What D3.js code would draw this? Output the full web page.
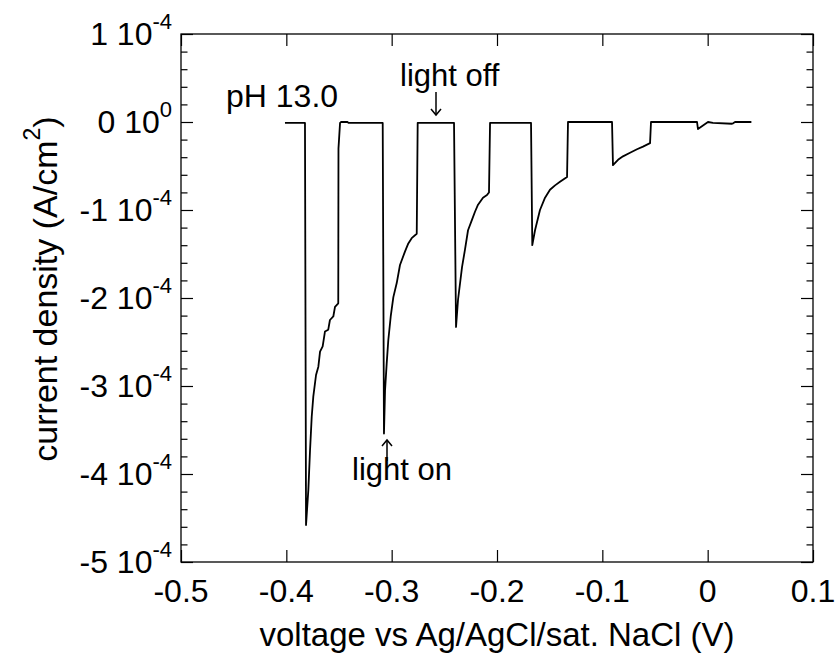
<!DOCTYPE html>
<html>
<head>
<meta charset="utf-8">
<script src="https://cdn.jsdelivr.net/npm/d3@7"></script>
<style>
body { margin: 0; background: #fff; }
text { font-family: "Liberation Sans", Arial, sans-serif; fill: #000; }
</style>
</head>
<body>
<div id="chart"></div>
<script>
// photocurrent trace (current in units of 1e-4 A/cm2)
const voltage = [
  -0.4013, -0.3823, -0.3813, -0.3791, -0.3775, -0.3759, -0.3744, -0.3718, -0.3696, -0.3680,
  -0.3655, -0.3633, -0.3602, -0.3586, -0.3554, -0.3538, -0.3507, -0.3505, -0.3490, -0.3480,
  -0.3420, -0.3410, -0.3085, -0.3073, -0.3063, -0.3047, -0.3032, -0.3009, -0.2984, -0.2952,
  -0.2921, -0.2873, -0.2842, -0.2810, -0.2762, -0.2753, -0.2408, -0.2389, -0.2370, -0.2332,
  -0.2304, -0.2275, -0.2237, -0.2209, -0.2180, -0.2133, -0.2095, -0.2076, -0.2066, -0.1677,
  -0.1665, -0.1639, -0.1592, -0.1544, -0.1497, -0.1449, -0.1402, -0.1335, -0.1326, -0.0908,
  -0.0899, -0.0851, -0.0804, -0.0737, -0.0671, -0.0614, -0.0547, -0.0538, -0.0101, -0.0092,
  0.0003, 0.0050, 0.0231, 0.0241, 0.0260, 0.0415
];
const currentE4 = [
  -0.01, -0.01, -4.58, -4.18, -3.73, -3.35, -3.12, -2.875, -2.78, -2.61,
  -2.55, -2.38, -2.36, -2.25, -2.21, -2.10, -2.06, -0.30, -0.01, 0.00,
  0.00, -0.01, -0.01, -3.54, -3.05, -2.74, -2.48, -2.21, -1.99, -1.83,
  -1.625, -1.47, -1.38, -1.32, -1.27, -0.01, -0.01, -2.33, -2.02, -1.65,
  -1.45, -1.23, -1.11, -1.02, -0.94, -0.86, -0.83, -0.80, -0.01, -0.01,
  -1.40, -1.23, -1.00, -0.86, -0.77, -0.72, -0.68, -0.625, 0.00, 0.00,
  -0.49, -0.43, -0.39, -0.35, -0.31, -0.28, -0.24, 0.00, 0.00, -0.08,
  0.00, -0.01, -0.02, -0.015, 0.00, 0.00
];

const xTicks = [-0.5, -0.4, -0.3, -0.2, -0.1, 0, 0.1];
const xTickLabels = ["-0.5", "-0.4", "-0.3", "-0.2", "-0.1", "0", "0.1"];
const yTicks = [1e-4, 0, -1e-4, -2e-4, -3e-4, -4e-4, -5e-4];
const yTickMantissa = ["1", "0", "-1", "-2", "-3", "-4", "-5"];
const yTickExponent = ["-4", "0", "-4", "-4", "-4", "-4", "-4"];

const data = voltage.map((v, i) => ({ v: v, c: currentE4[i] * 1e-4 }));

const margin = { top: 34, right: 23, bottom: 92, left: 181 };
const width = 836 - margin.left - margin.right;
const height = 654 - margin.top - margin.bottom;

const svg = d3.select("#chart")
    .append("svg")
    .attr("width", 836)
    .attr("height", 654)
    .append("g")
    .attr("transform", `translate(${margin.left}, ${margin.top})`);

const x = d3.scaleLinear().domain([-0.5, 0.1]).range([0, width]);
const y = d3.scaleLinear().domain([-5e-4, 1e-4]).range([height, 0]);

const yMinor = d3.range(-50, 11, 2).map(d => d * 1e-5).filter(d => !yTicks.some(t => Math.abs(t - d) < 1e-9));

// ticks point inward on all four sides
function tickAxis(axis, tr) {
    const g = svg.append("g").attr("transform", tr).call(axis);
    g.select(".domain").remove();
    g.selectAll("line").attr("stroke", "#000").attr("stroke-width", 1.2);
    return g;
}
tickAxis(d3.axisBottom(x).tickValues(xTicks).tickSizeInner(-12).tickSizeOuter(0).tickFormat(""), `translate(0,${height})`);
tickAxis(d3.axisTop(x).tickValues(xTicks).tickSizeInner(-12).tickSizeOuter(0).tickFormat(""), "translate(0,0)");
tickAxis(d3.axisLeft(y).tickValues(yTicks).tickSizeInner(-12).tickSizeOuter(0).tickFormat(""), "translate(0,0)");
tickAxis(d3.axisLeft(y).tickValues(yMinor).tickSizeInner(-6.5).tickSizeOuter(0).tickFormat(""), "translate(0,0)");
tickAxis(d3.axisRight(y).tickValues(yTicks).tickSizeInner(-12).tickSizeOuter(0).tickFormat(""), `translate(${width},0)`);
tickAxis(d3.axisRight(y).tickValues(yMinor).tickSizeInner(-6.5).tickSizeOuter(0).tickFormat(""), `translate(${width},0)`);

svg.append("rect")
    .attr("width", width)
    .attr("height", height)
    .attr("fill", "none")
    .attr("stroke", "#000")
    .attr("stroke-width", 1.3);

// tick labels
svg.selectAll(".xlab")
    .data(xTicks)
    .enter().append("text")
    .attr("class", "xlab")
    .attr("x", d => x(d))
    .attr("y", height + 40)
    .attr("text-anchor", "middle")
    .style("font-size", "32px")
    .text((d, i) => xTickLabels[i]);

const ylab = svg.selectAll(".ylab")
    .data(yTicks)
    .enter().append("text")
    .attr("class", "ylab")
    .attr("x", -9)
    .attr("y", d => y(d) + 11)
    .attr("text-anchor", "end")
    .style("font-size", "32px");
ylab.append("tspan").text((d, i) => yTickMantissa[i] + " 10");
ylab.append("tspan")
    .attr("dy", "-0.75em")
    .style("font-size", "22px")
    .text((d, i) => yTickExponent[i]);

// axis titles
svg.append("text")
    .attr("x", width / 2)
    .attr("y", height + 84)
    .attr("text-anchor", "middle")
    .style("font-size", "33px")
    .text("voltage vs Ag/AgCl/sat. NaCl (V)");

const yTitle = svg.append("text")
    .attr("transform", `translate(${57 - margin.left}, ${289 - margin.top}) rotate(-90)`)
    .attr("text-anchor", "middle")
    .style("font-size", "34px");
yTitle.append("tspan").text("current density (A/cm");
yTitle.append("tspan").attr("dy", "-0.75em").style("font-size", "23px").text("2");
yTitle.append("tspan").attr("dy", "0.51em").text(")");

// trace
svg.append("path")
    .datum(data)
    .attr("fill", "none")
    .attr("stroke", "#000")
    .attr("stroke-width", 1.8)
    .attr("stroke-linejoin", "round")
    .attr("d", d3.line().x(d => x(d.v)).y(d => y(d.c)));

// annotations
svg.append("text")
    .attr("x", 226 - margin.left)
    .attr("y", 107 - margin.top)
    .style("font-size", "32px")
    .text("pH 13.0");

svg.append("text")
    .attr("x", 400 - margin.left)
    .attr("y", 86 - margin.top)
    .style("font-size", "31px")
    .text("light off");

svg.append("text")
    .attr("x", 352 - margin.left)
    .attr("y", 480 - margin.top)
    .style("font-size", "31px")
    .text("light on");

function arrow(x0, yTail, yHead) {
    const s = yHead > yTail ? -1 : 1;
    const g = svg.append("g")
        .attr("fill", "none")
        .attr("stroke", "#000")
        .attr("stroke-width", 1.5);
    g.append("line")
        .attr("x1", x0).attr("x2", x0)
        .attr("y1", yTail).attr("y2", yHead);
    g.append("path")
        .attr("d", `M${x0 - 5},${yHead + s * 6}L${x0},${yHead}L${x0 + 5},${yHead + s * 6}`);
}
arrow(436 - margin.left, 92 - margin.top, 115 - margin.top);
arrow(387 - margin.left, 461 - margin.top, 440 - margin.top);
</script>
</body>
</html>
